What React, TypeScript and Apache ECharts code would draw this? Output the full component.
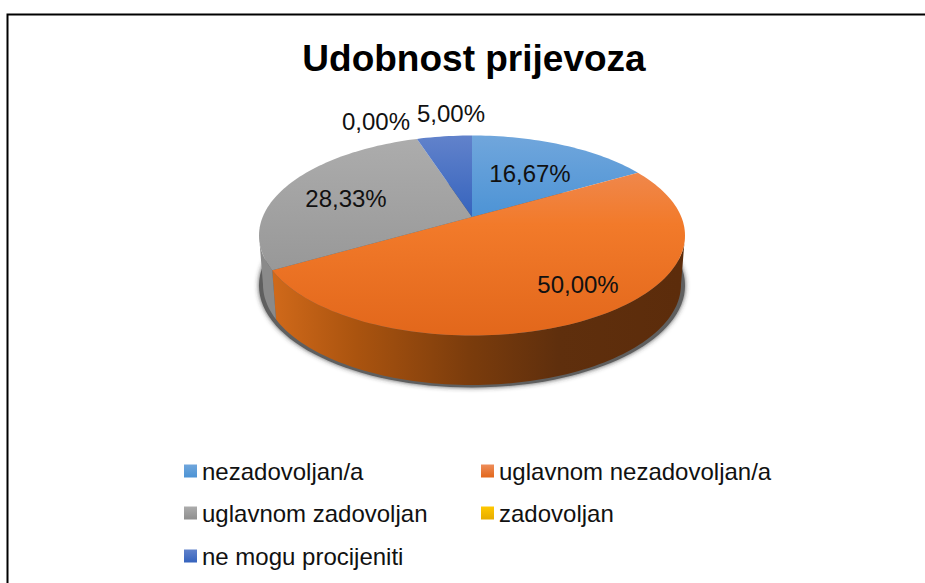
import React, { useEffect, useRef } from "react";
import * as echarts from "echarts";

const titleText = "Udobnost prijevoza";
const categories = ["nezadovoljan/a", "uglavnom nezadovoljan/a", "uglavnom zadovoljan", "zadovoljan", "ne mogu procijeniti"];
const shares = [16.67, 50.0, 28.33, 0.0, 5.0];
const valueLabels = ["16,67%", "50,00%", "28,33%", "0,00%", "5,00%"];

// layout: label centres and legend slots, in page pixels
const labelCentres = [[530, 173], [578, 284], [346, 198], [376, 121], [451, 113]];
const legendSlots = [[184, 459], [481, 459], [184, 501], [481, 501], [184, 544]];

const FONT = '"Liberation Sans", Arial, sans-serif';
const TOP = { cx: 472, cy: 235.5, rx: 213, ry: 100 };
const BOTTOM = { cx: 472, cy: 284.5, rx: 209, ry: 100.5 };
const A = -0.185; // perspective shift of the pie's centre on the ellipse
const FRONT_ANGLE = (Math.acos(A) * 180) / Math.PI; // angle where the front edge begins

const vGrad = (y0: number, y1: number, stops: [number, string][]) =>
  new echarts.graphic.LinearGradient(0, y0, 0, y1, stops.map(([offset, color]) => ({ offset, color })), true);
const hGrad = (x0: number, x1: number, stops: [number, string][]) =>
  new echarts.graphic.LinearGradient(x0, 0, x1, 0, stops.map(([offset, color]) => ({ offset, color })), true);
const iconGrad = (a: string, b: string) =>
  new echarts.graphic.LinearGradient(0, 0, 0, 1, [{ offset: 0, color: a }, { offset: 1, color: b }]);

const topFills = [
  vGrad(136, 218, [[0, "#70A6DC"], [1, "#4C93D5"]]),
  vGrad(150, 336, [[0, "#EE8D5A"], [0.4, "#F27A2A"], [1, "#E2671B"]]),
  vGrad(140, 270, [[0, "#ACACAC"], [1, "#989898"]]),
  vGrad(136, 218, [[0, "#FFC000"], [1, "#E6AC00"]]),
  vGrad(136, 218, [[0, "#6182CB"], [1, "#3563BD"]]),
];
const sideFills = [
  "#2F6EA8",
  hGrad(273, 681, [[0, "#D0691A"], [0.2, "#AB540F"], [0.48, "#7B3C0C"], [0.7, "#5F2F0D"], [1, "#5C2C0B"]]),
  "#8A8A8A",
  "#A07800",
  "#27488C",
];
const iconFills = [
  iconGrad("#70A6DC", "#4C93D5"),
  iconGrad("#EE8D5A", "#E2671B"),
  iconGrad("#ACACAC", "#8F8F8F"),
  iconGrad("#FFC800", "#E6AC00"),
  iconGrad("#6182CB", "#3563BD"),
];

const project = (deg: number, e: typeof TOP) => {
  const t = (deg * Math.PI) / 180;
  const x = Math.sin(t);
  const y = -Math.cos(t);
  const d = 1 + A * y;
  return [e.cx + (e.rx * x * Math.sqrt(1 - A * A)) / d, e.cy + (e.ry * (y + A)) / d];
};

const arc = (from: number, to: number, e: typeof TOP) => {
  const n = Math.max(1, Math.ceil((to - from) / 1.5));
  const out: number[][] = [];
  for (let i = 0; i <= n; i++) out.push(project(from + ((to - from) * i) / n, e));
  return out;
};

const total = shares.reduce((s, v) => s + v, 0);
const startOf = (i: number) => (shares.slice(0, i).reduce((s, v) => s + v, 0) / total) * 360;

const buildOption = () => ({
  animation: false,
  backgroundColor: "#ffffff",
  title: {
    text: titleText,
    left: 469,
    top: 35,
    textAlign: "center",
    textStyle: { fontFamily: FONT, fontWeight: "bold", fontSize: 37, color: "#000000" },
  },
  legend: categories.map((name, i) => ({
    show: true,
    left: legendSlots[i][0],
    top: legendSlots[i][1],
    padding: 0,
    itemWidth: 13,
    itemHeight: 13,
    itemGap: 0,
    selectedMode: false,
    icon: "rect",
    data: [{ name, icon: "rect", itemStyle: { color: iconFills[i] } }],
    textStyle: { fontFamily: FONT, fontSize: 24, color: "#111111", padding: [0, 0, 0, 0] },
  })),
  graphic: [
    { type: "rect", z: 0, shape: { x: 7.5, y: 14.5, width: 960, height: 620 }, style: { fill: "none", stroke: "#000000", lineWidth: 2 } },
    {
      type: "ellipse",
      z: 1,
      shape: { cx: 472, cy: 285.5, rx: 213, ry: 102 },
      style: { fill: "#5E5E5E", shadowBlur: 5, shadowColor: "rgba(50,50,50,0.85)" },
    },
  ],
  series: categories.map((name, i) => ({
    type: "custom",
    name,
    coordinateSystem: "none",
    clip: false,
    silent: true,
    z: 5,
    itemStyle: { color: iconFills[i] },
    data: [[shares[i]]],
    renderItem: (_p: unknown, api: any) => {
      const value = api.value(0) as number;
      const from = startOf(i);
      const to = from + (value / total) * 360;
      const children: any[] = [];
      const sideFrom = Math.max(from, FRONT_ANGLE);
      const sideTo = Math.min(to, 360 - FRONT_ANGLE);
      if (value > 0 && sideTo > sideFrom) {
        const pts = [...arc(sideFrom, sideTo, TOP), ...arc(sideFrom, sideTo, BOTTOM).reverse()];
        children.push({ type: "polygon", z2: 1, shape: { points: pts }, style: { fill: sideFills[i] } });
      }
      if (value > 0) {
        const pts = [[TOP.cx, TOP.cy + TOP.ry * A], ...arc(from, to, TOP)];
        children.push({ type: "polygon", z2: 2, shape: { points: pts }, style: { fill: topFills[i] } });
      }
      children.push({
        type: "text",
        z2: 10,
        style: {
          text: valueLabels[i],
          x: labelCentres[i][0],
          y: labelCentres[i][1],
          align: "center",
          verticalAlign: "middle",
          font: `24px ${FONT}`,
          fill: "#111111",
        },
      });
      return { type: "group", children };
    },
  })),
});

export default function App() {
  const ref = useRef<HTMLDivElement>(null);
  useEffect(() => {
    const chart = echarts.init(ref.current!, undefined, { renderer: "svg" });
    chart.setOption(buildOption() as any);
    return () => chart.dispose();
  }, []);
  return <div ref={ref} style={{ position: "fixed", left: 0, top: 0, width: 925, height: 583 }} />;
}
